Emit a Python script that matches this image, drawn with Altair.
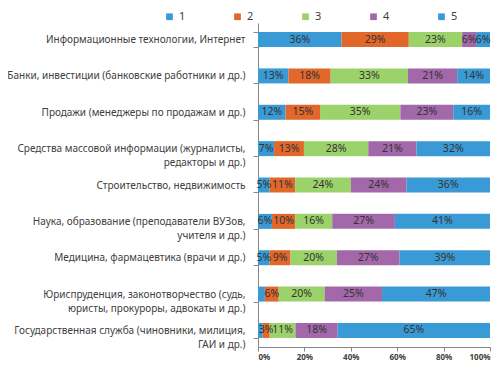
import altair as alt
import pandas as pd

categories = [
    "Информационные технологии, Интернет",
    "Банки, инвестиции  (банковские работники и др.)",
    "Продажи (менеджеры по продажам и др.)",
    "Средства массовой информации  (журналисты,\nредакторы и др.)",
    "Строительство, недвижимость",
    "Наука, образование (преподаватели ВУЗов,\nучителя и др.)",
    "Медицина, фармацевтика (врачи и др.)",
    "Юриспруденция, законотворчество (судь,\nюристы, прокуроры, адвокаты и др.)",
    "Государственная служба (чиновники, милиция,\nГАИ и др.)",
]
series = ["1", "2", "3", "4", "5"]
s1 = [36, 13, 12, 7, 5, 6, 5, 3, 2]
s2 = [29, 18, 15, 13, 11, 10, 9, 6, 3]
s3 = [23, 33, 35, 28, 24, 16, 20, 20, 11]
s4 = [6, 21, 23, 21, 24, 27, 27, 25, 18]
s5 = [6, 14, 16, 32, 36, 41, 39, 47, 65]
# labels shown on the bars (blank where the original shows none)
l1 = ["36%", "13%", "12%", "7%", "5%", "6%", "5%", "", ""]
l2 = ["29%", "18%", "15%", "13%", "11%", "10%", "9%", "6%", "3%"]
l3 = ["23%", "33%", "35%", "28%", "24%", "16%", "20%", "20%", "11%"]
l4 = ["6%", "21%", "23%", "21%", "24%", "27%", "27%", "25%", "18%"]
l5 = ["6%", "14%", "16%", "32%", "36%", "41%", "39%", "47%", "65%"]
colors = ["#3A9AD6", "#E2672B", "#9CD26A", "#A268A9", "#3A9AD6"]

rows = []
for si, (vals, labs) in enumerate(zip([s1, s2, s3, s4, s5], [l1, l2, l3, l4, l5])):
    for ci, cat in enumerate(categories):
        rows.append({"cat": cat, "series": series[si], "ord": si, "value": vals[ci], "label": labs[ci]})
df = pd.DataFrame(rows)

font = "Noto Sans"

base = alt.Chart(df).transform_stack(
    stack="value", groupby=["cat"], sort=[alt.SortField("ord")], offset="normalize", as_=["x0", "x1"]
).transform_calculate(mid="(datum.x0 + datum.x1) / 2")

yenc = alt.Y(
    "cat:N",
    sort=categories,
    title=None,
    scale=alt.Scale(paddingInner=0.59, paddingOuter=0.25),
    axis=alt.Axis(
        labelExpr="split(datum.label, '\\n')",
        labelFont=font,
        labelFontSize=10,
        labelColor="#404040",
        labelLimit=260,
        labelPadding=8,
        tickBand="extent",
        tickSize=5,
        tickColor="#888888",
        domainColor="#888888",
        labelLineHeight=14,
    ),
)

bars = base.mark_bar(size=15).encode(
    y=yenc,
    x=alt.X(
        "x0:Q",
        title=None,
        scale=alt.Scale(domain=[0, 1]),
        axis=alt.Axis(
            format="%",
            values=[0, 0.2, 0.4, 0.6, 0.8, 1.0],
            grid=False,
            labelFont=font,
            labelFontSize=8,
            labelFontWeight="bold",
            labelColor="#404040",
            tickColor="#888888",
            domainColor="#888888",
            tickSize=4,
        ),
    ),
    x2="x1:Q",
    color=alt.Color(
        "series:N",
        scale=alt.Scale(domain=series, range=colors),
        legend=alt.Legend(
            title=None,
            orient="none",
            direction="horizontal",
            legendX=-94,
            legendY=-12,
            symbolType="square",
            symbolSize=45,
            symbolStrokeWidth=0,
            labelFont=font,
            labelFontSize=11,
            labelColor="#404040",
            columnPadding=46,
            symbolOffset=0,
        ),
    ),
)

texts = base.mark_text(font=font, fontSize=10.5, color="#333333").encode(
    y=alt.Y("cat:N", sort=categories),
    x=alt.X("mid:Q"),
    text="label:N",
)

chart = (
    (bars + texts)
    .properties(
        width=232,
        height=324,
        autosize=alt.AutoSizeParams(type="none"),
        padding={"left": 250, "top": 15, "right": 2, "bottom": 18},
    )
    .configure_view(stroke=None)
)

chart.save("out.html", embed_options={"renderer": "svg", "actions": False})
